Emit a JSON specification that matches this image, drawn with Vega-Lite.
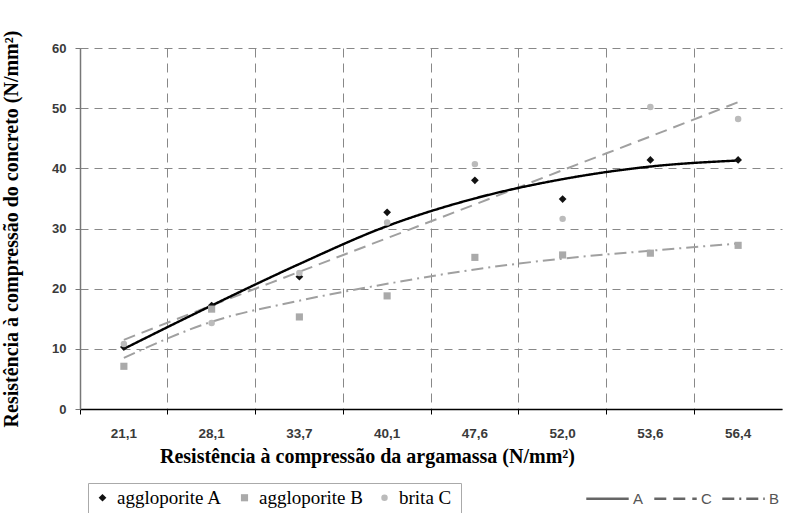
{
  "$schema": "https://vega.github.io/schema/vega-lite/v6.json",
  "width": 702,
  "height": 361,
  "autosize": {"type": "none"},
  "padding": {"left": 80, "top": 48, "right": 8, "bottom": 104},
  "background": "white",
  "config": {"view": {"stroke": null}},
  "datasets": {
    "pts": [
      {"x": "21,1", "s": "aggloporite A", "y": 10.3},
      {"x": "28,1", "s": "aggloporite A", "y": 17.2},
      {"x": "33,7", "s": "aggloporite A", "y": 22.0},
      {"x": "40,1", "s": "aggloporite A", "y": 32.7},
      {"x": "47,6", "s": "aggloporite A", "y": 38.0},
      {"x": "52,0", "s": "aggloporite A", "y": 34.9},
      {"x": "53,6", "s": "aggloporite A", "y": 41.4},
      {"x": "56,4", "s": "aggloporite A", "y": 41.4},
      {"x": "21,1", "s": "aggloporite B", "y": 7.1},
      {"x": "28,1", "s": "aggloporite B", "y": 16.6},
      {"x": "33,7", "s": "aggloporite B", "y": 15.3},
      {"x": "40,1", "s": "aggloporite B", "y": 18.8},
      {"x": "47,6", "s": "aggloporite B", "y": 25.2},
      {"x": "52,0", "s": "aggloporite B", "y": 25.6},
      {"x": "53,6", "s": "aggloporite B", "y": 25.9},
      {"x": "56,4", "s": "aggloporite B", "y": 27.2},
      {"x": "21,1", "s": "brita C", "y": 10.8},
      {"x": "28,1", "s": "brita C", "y": 14.3},
      {"x": "33,7", "s": "brita C", "y": 22.6},
      {"x": "40,1", "s": "brita C", "y": 31.0},
      {"x": "47,6", "s": "brita C", "y": 40.7},
      {"x": "52,0", "s": "brita C", "y": 31.6},
      {"x": "53,6", "s": "brita C", "y": 50.2},
      {"x": "56,4", "s": "brita C", "y": 48.2}
    ],
    "lines": [
      {"x": "21,1", "t": "A", "y": 10.0},
      {"x": "28,1", "t": "A", "y": 17.2},
      {"x": "33,7", "t": "A", "y": 24.1},
      {"x": "40,1", "t": "A", "y": 30.4},
      {"x": "47,6", "t": "A", "y": 35.0},
      {"x": "52,0", "t": "A", "y": 38.2},
      {"x": "53,6", "t": "A", "y": 40.3},
      {"x": "56,4", "t": "A", "y": 41.3},
      {"x": "21,1", "t": "C", "y": 11.5},
      {"x": "28,1", "t": "C", "y": 17.2},
      {"x": "33,7", "t": "C", "y": 22.8},
      {"x": "40,1", "t": "C", "y": 28.4},
      {"x": "47,6", "t": "C", "y": 34.0},
      {"x": "52,0", "t": "C", "y": 39.7},
      {"x": "53,6", "t": "C", "y": 45.3},
      {"x": "56,4", "t": "C", "y": 51.0},
      {"x": "21,1", "t": "B", "y": 8.5},
      {"x": "28,1", "t": "B", "y": 14.5},
      {"x": "33,7", "t": "B", "y": 18.0},
      {"x": "40,1", "t": "B", "y": 20.8},
      {"x": "47,6", "t": "B", "y": 23.2},
      {"x": "52,0", "t": "B", "y": 25.0},
      {"x": "53,6", "t": "B", "y": 26.3},
      {"x": "56,4", "t": "B", "y": 27.5}
    ]
  },
  "encoding": {
    "x": {
      "field": "x", "type": "ordinal",
      "sort": ["21,1", "28,1", "33,7", "40,1", "47,6", "52,0", "53,6", "56,4"],
      "scale": {"type": "band", "paddingInner": 0, "paddingOuter": 0},
      "axis": {
        "title": "Resistência à compressão da argamassa (N/mm²)",
        "titleFont": "Liberation Serif", "titleFontSize": 20, "titleFontWeight": "bold", "titleColor": "#000",
        "titleX": 287, "titleY": 53, "titleBaseline": "alphabetic", "titleAlign": "center", "titleAnchor": null,
        "labelFont": "Liberation Sans", "labelFontSize": 13.5, "labelFontWeight": "bold", "labelColor": "#3a3a3a",
        "labelAngle": 0, "labelPadding": 12,
        "domainColor": "#000", "domainWidth": 1.5,
        "tickColor": "#000", "tickSize": 5, "bandPosition": 0,
        "grid": true, "gridColor": "#888", "gridDash": [9, 6], "gridWidth": 1
      }
    },
    "y": {
      "field": "y", "type": "quantitative",
      "scale": {"domain": [0, 60]},
      "axis": {
        "title": "Resistência à compressão do concreto (N/mm²)",
        "titleFont": "Liberation Serif", "titleFontSize": 20, "titleFontWeight": "bold", "titleColor": "#000",
        "titleX": -59,
        "values": [0, 10, 20, 30, 40, 50, 60],
        "labelFont": "Liberation Sans", "labelFontSize": 13, "labelFontWeight": "bold", "labelColor": "#3a3a3a",
        "labelPadding": 9,
        "domainColor": "#777", "domainWidth": 1.5,
        "tickColor": "#777", "tickSize": 5,
        "grid": true, "gridColor": "#888", "gridDash": [8, 6], "gridWidth": 1
      }
    }
  },
  "layer": [
    {
      "mark": {"type": "rule", "color": "#999", "strokeWidth": 1.2},
      "encoding": {"y": {"datum": 60}, "x": null}
    },
    {
      "data": {"name": "lines"},
      "transform": [{"filter": "datum.t !== 'A'"}],
      "mark": {"type": "line", "interpolate": "monotone", "color": "#a0a0a0", "strokeWidth": 2},
      "encoding": {
        "strokeDash": {
          "field": "t", "type": "nominal",
          "scale": {"domain": ["A", "C", "B"], "range": [[1, 0], [12, 7], [12, 5, 2, 5]]},
          "legend": {
            "orient": "none", "legendX": 505, "legendY": 428, "direction": "horizontal",
            "title": null, "symbolType": "stroke", "symbolSize": 1800,
            "symbolStrokeColor": "#666", "symbolStrokeWidth": 2.5,
            "labelFont": "Liberation Sans", "labelFontSize": 15, "labelColor": "#555",
            "labelOffset": 3, "columnPadding": 5
          }
        }
      }
    },
    {
      "data": {"name": "lines"},
      "transform": [{"filter": "datum.t === 'A'"}],
      "mark": {"type": "line", "interpolate": "monotone", "color": "#000000", "strokeWidth": 2.4},
      "encoding": {
        "strokeDash": {
          "field": "t", "type": "nominal",
          "scale": {"domain": ["A", "C", "B"], "range": [[1, 0], [12, 7], [12, 5, 2, 5]]},
          "legend": {
            "orient": "none", "legendX": 505, "legendY": 428, "direction": "horizontal",
            "title": null, "symbolType": "stroke", "symbolSize": 1800,
            "symbolStrokeColor": "#666", "symbolStrokeWidth": 2.5,
            "labelFont": "Liberation Sans", "labelFontSize": 15, "labelColor": "#555",
            "labelOffset": 3, "columnPadding": 5
          }
        }
      }
    },
    {
      "data": {"name": "pts"},
      "mark": {"type": "point", "filled": true, "opacity": 1},
      "encoding": {
        "shape": {
          "field": "s", "type": "nominal",
          "scale": {"domain": ["aggloporite A", "aggloporite B", "brita C"], "range": ["diamond", "square", "circle"]},
          "legend": {
            "orient": "none", "legendX": 8, "legendY": 435, "direction": "horizontal",
            "title": "\u00a0\u00a0\u00a0\u00a0\u00a0\u00a0\u00a0\u00a0\u00a0\u00a0\u00a0\u00a0\u00a0\u00a0\u00a0\u00a0\u00a0\u00a0\u00a0\u00a0\u00a0\u00a0\u00a0\u00a0\u00a0\u00a0\u00a0\u00a0\u00a0\u00a0\u00a0\u00a0\u00a0\u00a0\u00a0\u00a0\u00a0\u00a0\u00a0\u00a0\u00a0\u00a0\u00a0\u00a0\u00a0\u00a0\u00a0\u00a0\u00a0\u00a0\u00a0\u00a0\u00a0\u00a0\u00a0\u00a0\u00a0\u00a0\u00a0\u00a0\u00a0\u00a0\u00a0\u00a0\u00a0\u00a0\u00a0\u00a0\u00a0\u00a0",
            "titleOrient": "right", "titleLimit": 2000, "titleFont": "Liberation Serif", "titleFontSize": 20,
            "strokeColor": "#aaa", "padding": 5,
            "labelFont": "Liberation Serif", "labelFontSize": 19, "labelColor": "#000",
            "labelOffset": 5, "columnPadding": 12, "labelLimit": 200
          }
        },
        "color": {
          "field": "s", "type": "nominal",
          "scale": {"domain": ["aggloporite A", "aggloporite B", "brita C"], "range": ["#111111", "#aaaaaa", "#bbbbbb"]},
          "legend": {
            "orient": "none", "legendX": 8, "legendY": 435, "direction": "horizontal",
            "title": "\u00a0\u00a0\u00a0\u00a0\u00a0\u00a0\u00a0\u00a0\u00a0\u00a0\u00a0\u00a0\u00a0\u00a0\u00a0\u00a0\u00a0\u00a0\u00a0\u00a0\u00a0\u00a0\u00a0\u00a0\u00a0\u00a0\u00a0\u00a0\u00a0\u00a0\u00a0\u00a0\u00a0\u00a0\u00a0\u00a0\u00a0\u00a0\u00a0\u00a0\u00a0\u00a0\u00a0\u00a0\u00a0\u00a0\u00a0\u00a0\u00a0\u00a0\u00a0\u00a0\u00a0\u00a0\u00a0\u00a0\u00a0\u00a0\u00a0\u00a0\u00a0\u00a0\u00a0\u00a0\u00a0\u00a0\u00a0\u00a0\u00a0\u00a0",
            "titleOrient": "right", "titleLimit": 2000, "titleFont": "Liberation Serif", "titleFontSize": 20,
            "strokeColor": "#aaa", "padding": 5,
            "labelFont": "Liberation Serif", "labelFontSize": 19, "labelColor": "#000",
            "labelOffset": 5, "columnPadding": 12, "labelLimit": 200
          }
        },
        "size": {
          "field": "s", "type": "nominal",
          "scale": {"domain": ["aggloporite A", "aggloporite B", "brita C"], "range": [60, 42, 10]},
          "legend": {
            "orient": "none", "legendX": 8, "legendY": 435, "direction": "horizontal",
            "title": "\u00a0\u00a0\u00a0\u00a0\u00a0\u00a0\u00a0\u00a0\u00a0\u00a0\u00a0\u00a0\u00a0\u00a0\u00a0\u00a0\u00a0\u00a0\u00a0\u00a0\u00a0\u00a0\u00a0\u00a0\u00a0\u00a0\u00a0\u00a0\u00a0\u00a0\u00a0\u00a0\u00a0\u00a0\u00a0\u00a0\u00a0\u00a0\u00a0\u00a0\u00a0\u00a0\u00a0\u00a0\u00a0\u00a0\u00a0\u00a0\u00a0\u00a0\u00a0\u00a0\u00a0\u00a0\u00a0\u00a0\u00a0\u00a0\u00a0\u00a0\u00a0\u00a0\u00a0\u00a0\u00a0\u00a0\u00a0\u00a0\u00a0\u00a0",
            "titleOrient": "right", "titleLimit": 2000, "titleFont": "Liberation Serif", "titleFontSize": 20,
            "strokeColor": "#aaa", "padding": 5,
            "labelFont": "Liberation Serif", "labelFontSize": 19, "labelColor": "#000",
            "labelOffset": 5, "columnPadding": 12, "labelLimit": 200
          }
        }
      }
    }
  ]
}
